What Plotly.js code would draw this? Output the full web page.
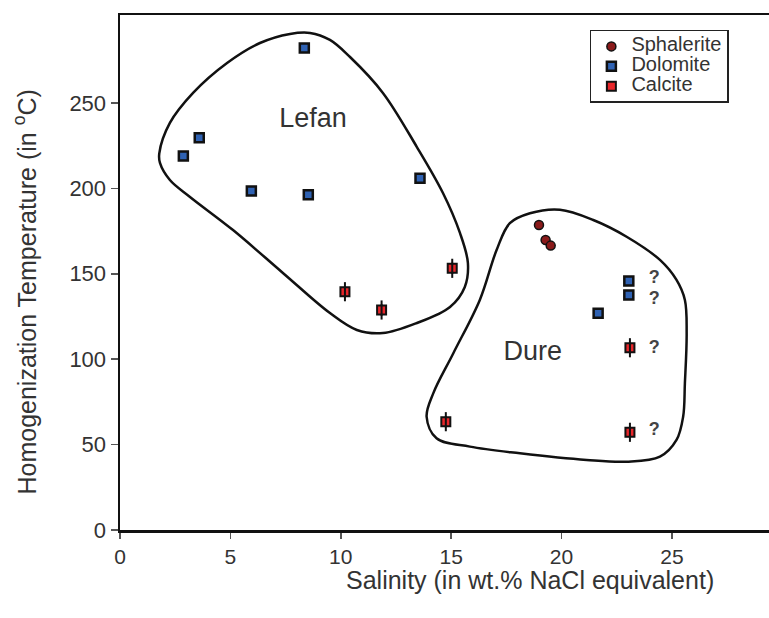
<!DOCTYPE html>
<html>
<head>
<meta charset="utf-8">
<script src="https://cdn.plot.ly/plotly-3.0.1.min.js"></script>
<style>html,body{margin:0;padding:0;background:#fff;}#chart{width:769px;height:618px;}</style>
</head>
<body>
<div id="chart"></div>
<script>
// Sphalerite (Dure)
const sphX = [18.98, 19.28, 19.51];
const sphY = [178.6, 169.8, 166.5];
// Dolomite
const dolX = [2.87, 3.59, 5.95, 8.35, 8.53, 13.59, 21.66, 23.05, 23.05];
const dolY = [219.0, 229.7, 198.5, 282.2, 196.3, 205.9, 126.9, 145.8, 137.6];
// Calcite
const calX = [10.19, 11.85, 15.05, 14.76, 23.10, 23.10];
const calY = [139.5, 128.8, 153.2, 63.4, 106.7, 57.2];
const calErr = 5.6;
// Question marks (uncertain data)
const qX = [24.2, 24.2, 24.2, 24.2];
const qY = [147, 135, 106.5, 58.5];
// Group labels
const groupNames = ["Lefan", "Dure"];
const groupX = [8.74, 18.7];
const groupY = [240, 103.6];
// Axis ticks
const xTicks = [0, 5, 10, 15, 20, 25];
const yTicks = [0, 50, 100, 150, 200, 250];
// Outline of Lefan field
const lefanX = [1.78, 2.26, 3.31, 4.85, 6.34, 7.70, 8.61, 9.51, 10.42, 11.91, 13.45, 14.63, 15.40, 15.76, 15.62, 14.95, 13.45, 11.91, 10.73, 9.51, 7.38, 5.12, 3.17, 2.26, 1.81, 1.78];
const lefanY = [220.5, 238.3, 255.9, 273.4, 285.1, 290.4, 291.0, 286.9, 276.9, 255.9, 224.2, 197.3, 173.9, 156.3, 142.3, 130.6, 121.2, 115.3, 117.1, 127.0, 150.5, 175.6, 195.0, 204.9, 214.9, 220.5];
// Outline of Dure field
const dureX = [18.57, 19.93, 21.44, 22.95, 24.46, 25.21, 25.59, 25.67, 25.59, 25.51, 25.21, 24.46, 22.95, 21.14, 18.12, 15.85, 14.34, 13.89, 14.19, 15.10, 16.30, 17.06, 17.66, 18.57];
const dureY = [185.4, 187.5, 181.5, 171.7, 158.1, 146.4, 134.7, 115.2, 85.9, 66.3, 52.7, 42.9, 40.0, 41.0, 44.9, 48.8, 53.7, 66.3, 80.0, 103.5, 134.7, 163.9, 179.6, 185.4];

const FONT = 'Liberation Sans, Arial, sans-serif';
const txt = '#333333';
const lg = s => '<span style="font-size:20px">' + s + '</span>';
const traces = [
  {x: lefanX, y: lefanY, mode: 'lines', line: {color: '#111', width: 2.5, shape: 'spline', smoothing: 1}, showlegend: false, hoverinfo: 'skip'},
  {x: dureX, y: dureY, mode: 'lines', line: {color: '#111', width: 2.5, shape: 'spline', smoothing: 1}, showlegend: false, hoverinfo: 'skip'},
  {x: groupX, y: groupY, text: groupNames, mode: 'text', textfont: {family: FONT, size: 27, color: txt}, showlegend: false},
  {x: qX, y: qY, text: qX.map(() => '<b>?</b>'), mode: 'text', textfont: {family: FONT, size: 18, color: '#444'}, showlegend: false},
  {name: lg('Sphalerite'), x: sphX, y: sphY, mode: 'markers', marker: {symbol: 'circle', size: 9, color: '#8a1a1a', line: {color: '#111', width: 1.5}}},
  {name: lg('Dolomite'), x: dolX, y: dolY, mode: 'markers', marker: {symbol: 'square', size: 9, color: '#2f62b3', line: {color: '#111', width: 2.5}}},
  {name: lg('Calcite'), x: calX, y: calY, mode: 'markers', marker: {symbol: 'square', size: 9, color: '#e8262a', line: {color: '#111', width: 2}},
   error_y: {type: 'constant', value: calErr, thickness: 2, width: 0, color: '#111'}},
  {x: calX, y: calY, mode: 'markers', marker: {symbol: 'line-ns', size: 8, line: {color: '#111', width: 2}}, showlegend: false, hoverinfo: 'skip'}
];

const layout = {
  width: 769, height: 618,
  margin: {l: 120, r: 0, t: 15, b: 88},
  paper_bgcolor: '#fff', plot_bgcolor: '#fff',
  font: {family: FONT, color: txt},
  showlegend: true,
  legend: {x: 0.724, y: 0.971, xanchor: 'left', yanchor: 'top', bgcolor: '#fff', bordercolor: '#222', borderwidth: 1.5,
           font: {size: 13, color: txt}, tracegroupgap: 0},
  xaxis: {range: [0, 29.4], tickvals: xTicks, showgrid: false, zeroline: false,
          showline: true, linecolor: '#111', linewidth: 2.5, mirror: true,
          ticks: 'outside', ticklen: 6, tickwidth: 1.5, tickcolor: '#555',
          tickfont: {size: 21, color: txt}},
  yaxis: {range: [0, 301.5], tickvals: yTicks, showgrid: false, zeroline: false,
          showline: true, linecolor: '#111', linewidth: 2.5, mirror: false,
          ticks: 'outside', ticklen: 7, tickwidth: 1.5, tickcolor: '#555',
          tickfont: {size: 22, color: txt}},
  annotations: [
    {text: 'Salinity (in wt.% NaCl equivalent)', xref: 'paper', yref: 'paper', x: 0.632, y: -0.0971,
     xanchor: 'center', yanchor: 'middle', showarrow: false, font: {family: FONT, size: 25, color: txt}},
    {text: 'Homogenization Temperature (in <sup>o</sup>C)', xref: 'paper', yref: 'paper', x: -0.1464, y: 0.463,
     xanchor: 'center', yanchor: 'middle', textangle: -90, showarrow: false, font: {family: FONT, size: 25, color: txt}}
  ]
};
Plotly.newPlot('chart', traces, layout, {displayModeBar: false, staticPlot: true});
</script>
</body>
</html>
